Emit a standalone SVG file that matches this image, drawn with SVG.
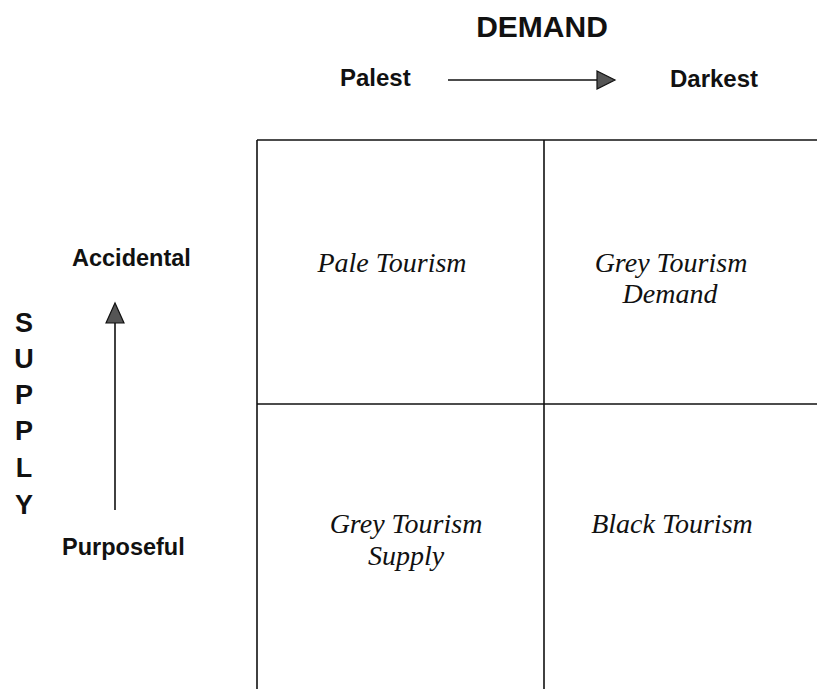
<svg xmlns="http://www.w3.org/2000/svg" width="817" height="689" viewBox="0 0 817 689">
<style>
.h{font-family:"Liberation Sans",Arial,sans-serif;font-weight:bold;fill:#111}
.q{font-family:"Liberation Serif","Times New Roman",serif;font-style:italic;font-size:28px;fill:#111;text-anchor:middle}
.ln{stroke:#111;stroke-width:1.6;fill:none}
.ah{fill:#555;stroke:#111;stroke-width:1.2}
</style>
<rect width="817" height="689" fill="#fff"/>
<g id="axes-labels">
<text class="h" x="542" y="37" font-size="30" text-anchor="middle">DEMAND</text>
<text class="h" x="340" y="86" font-size="24">Palest</text>
<text class="h" x="670" y="87" font-size="24">Darkest</text>
<text class="h" x="72" y="266" font-size="23.5">Accidental</text>
<text class="h" x="62" y="555" font-size="23.5">Purposeful</text>
<g class="h" font-size="27" text-anchor="middle">
<text x="24" y="332">S</text>
<text x="24" y="368">U</text>
<text x="24" y="404">P</text>
<text x="24" y="440">P</text>
<text x="24" y="477">L</text>
<text x="24" y="514">Y</text>
</g>
</g>
<g id="connectors">
<line class="ln" x1="448" y1="80" x2="598" y2="80"/>
<path class="ah" d="M597,71 L615,80 L597,89 Z"/>
<line class="ln" x1="115" y1="510" x2="115" y2="322"/>
<path class="ah" d="M106,323 L115,303 L124,323 Z"/>
</g>
<g id="grid">
<line class="ln" x1="257" y1="140" x2="817" y2="140"/>
<line class="ln" x1="257" y1="140" x2="257" y2="689"/>
<line class="ln" x1="544" y1="140" x2="544" y2="689"/>
<line class="ln" x1="257" y1="404" x2="817" y2="404"/>
</g>
<g id="pale"><text class="q" x="392" y="272">Pale Tourism</text></g>
<g id="grey-demand"><text class="q" x="671" y="272">Grey Tourism</text><text class="q" x="670" y="303">Demand</text></g>
<g id="grey-supply"><text class="q" x="406" y="533">Grey Tourism</text><text class="q" x="406" y="565">Supply</text></g>
<g id="black"><text class="q" x="672" y="533">Black Tourism</text></g>
</svg>
